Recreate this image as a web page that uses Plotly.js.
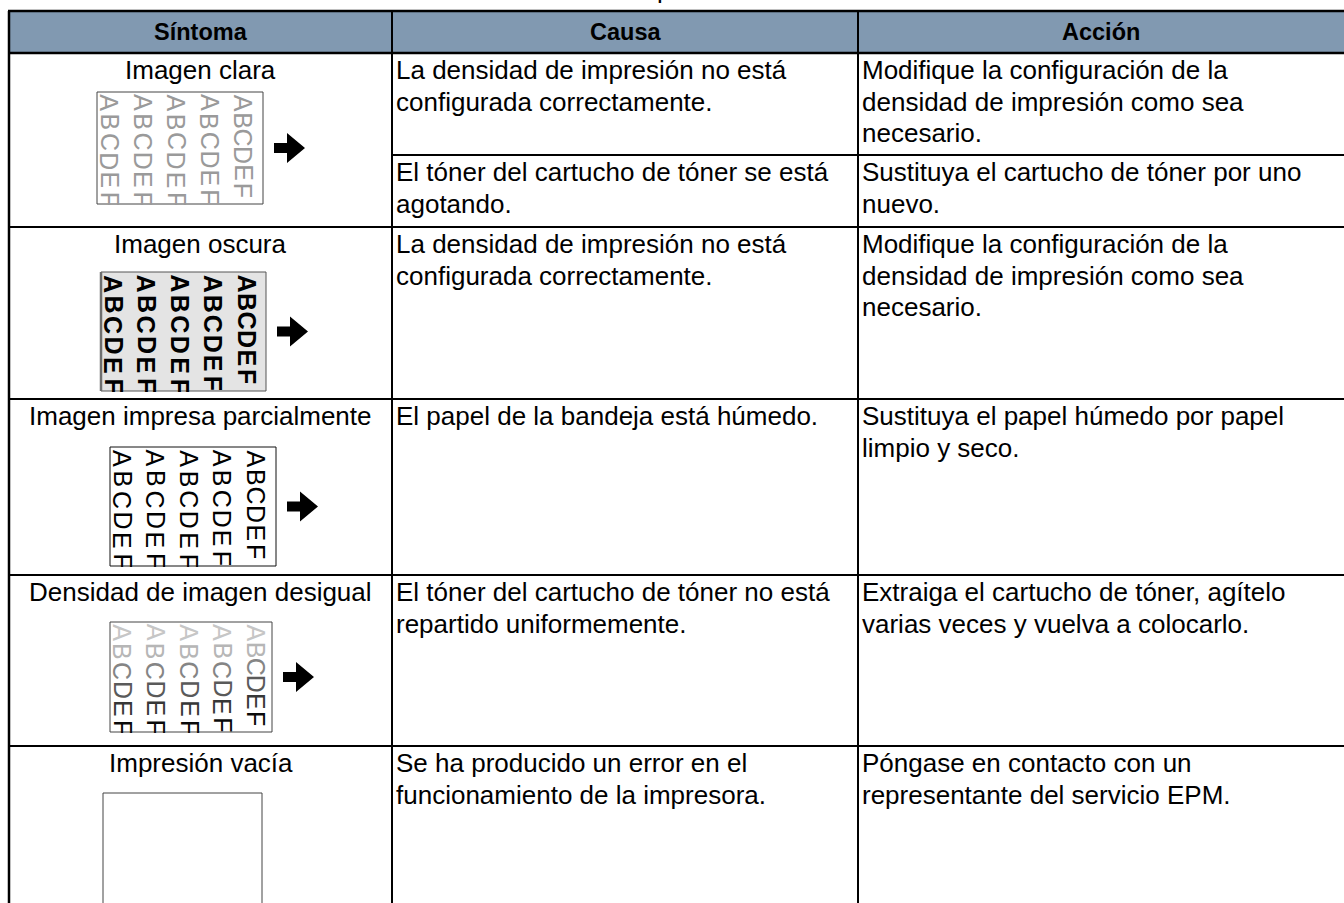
<!DOCTYPE html>
<html><head><meta charset="utf-8">
<script src="https://cdn.plot.ly/plotly-3.0.1.min.js"></script>
<style>html,body{margin:0;padding:0;background:#fff;overflow:hidden}#chart{width:1344px;height:903px}</style>
</head><body><div id="chart"></div>
<script>
// ---------- DATA ----------
const headers = ["Síntoma", "Causa", "Acción"];
const symptoms = ["Imagen clara", "Imagen oscura", "Imagen impresa parcialmente", "Densidad de imagen desigual", "Impresión vacía"];
const causeRow = [0, 0, 1, 2, 3, 4];
const causes = [
  "La densidad de impresión no está\nconfigurada correctamente.",
  "El tóner del cartucho de tóner se está\nagotando.",
  "La densidad de impresión no está\nconfigurada correctamente.",
  "El papel de la bandeja está húmedo.",
  "El tóner del cartucho de tóner no está\nrepartido uniformemente.",
  "Se ha producido un error en el\nfuncionamiento de la impresora."
];
const actions = [
  "Modifique la configuración de la\ndensidad de impresión como sea\nnecesario.",
  "Sustituya el cartucho de tóner por uno\nnuevo.",
  "Modifique la configuración de la\ndensidad de impresión como sea\nnecesario.",
  "Sustituya el papel húmedo por papel\nlimpio y seco.",
  "Extraiga el cartucho de tóner, agítelo\nvarias veces y vuelva a colocarlo.",
  "Póngase en contacto con un\nrepresentante del servicio EPM."
];
const sampleLetters = ["A", "B", "C", "D", "E", "F"];
const sampleKind = ["claro", "oscuro", "normal", "desigual", "vacio"];
const topFragment = "p";

// ---------- LAYOUT CONSTANTS ----------
const FONT = "Liberation Sans, Arial, sans-serif";
const colX = [9, 392, 858, 1350];
const headerTop = 11, headerBottom = 53;
const rowTops = [53, 227, 399, 575, 746];
const rowEnd = 915;
const causeTops = [53, 155, 227, 399, 575, 746];
const thumbs = [
  {x0: 97, x1: 263, y0: 92, y1: 204},
  {x0: 101, x1: 266, y0: 272, y1: 391},
  {x0: 110, x1: 276, y0: 447, y1: 566},
  {x0: 110, x1: 272, y0: 622, y1: 732},
  {x0: 103, x1: 262, y0: 793, y1: 920}
];
const colPitch = [20.5, 20.5, 20.5, 20, 18.5];
const lineGap = 31.5, firstLine = 17, bodySize = 26;

const shapes = [];
const ann = [];

// header band
shapes.push({type: 'rect', xref: 'x', yref: 'y', x0: colX[0], x1: colX[3], y0: headerTop, y1: headerBottom,
  fillcolor: '#8199b1', line: {width: 0}, layer: 'below'});

function hline(y, xa, xb, w) {
  shapes.push({type: 'line', xref: 'x', yref: 'y', x0: xa, x1: xb, y0: y, y1: y, line: {color: '#000', width: w}});
}
function vline(x, ya, yb, w) {
  shapes.push({type: 'line', xref: 'x', yref: 'y', x0: x, x1: x, y0: ya, y1: yb, line: {color: '#000', width: w}});
}
hline(headerTop, colX[0] - 1, colX[3], 2.5);
hline(headerBottom, colX[0], colX[3], 2.5);
rowTops.slice(1).forEach(y => hline(y, colX[0], colX[3], 2));
hline(causeTops[1], colX[1], colX[3], 2);
vline(colX[0], headerTop, rowEnd, 2.5);
vline(colX[1], headerTop, rowEnd, 2);
vline(colX[2], headerTop, rowEnd, 2);

// header text
headers.forEach((h, i) => {
  ann.push({xref: 'x', yref: 'y', x: (colX[i] + Math.min(colX[i + 1], 1344)) / 2, y: (headerTop + headerBottom) / 2,
    text: h, showarrow: false, xanchor: 'center', yanchor: 'middle',
    font: {family: FONT, size: 23.5, color: '#000', weight: 'bold'}});
});

// symptom names
symptoms.forEach((s, r) => {
  ann.push({xref: 'x', yref: 'y', x: (colX[0] + colX[1]) / 2, y: rowTops[r] + firstLine, text: s, showarrow: false,
    xanchor: 'center', yanchor: 'middle', font: {family: FONT, size: bodySize, color: '#000'}});
});

function addLines(txt, x, top) {
  txt.split("\n").forEach((line, li) => {
    ann.push({xref: 'x', yref: 'y', x: x, y: top + firstLine + lineGap * li, text: line, showarrow: false,
      xanchor: 'left', yanchor: 'middle', font: {family: FONT, size: bodySize, color: '#000'}});
  });
}
causes.forEach((c, k) => addLines(c, colX[1] + 2, causeTops[k]));
actions.forEach((a, k) => addLines(a, colX[2] + 2, causeTops[k]));

// sample thumbnails
const unevenColors = ["#c6c6c6", "#b6b6b6", "#858585", "#5a5a5a", "#373737", "#0a0a0a"];
const covers = [];
thumbs.forEach((t, r) => {
  const kind = sampleKind[r];
  const h = t.y1 - t.y0;
  if (kind === 'oscuro') {
    shapes.push({type: 'rect', xref: 'x', yref: 'y', x0: t.x0, x1: t.x1, y0: t.y0, y1: t.y1,
      fillcolor: '#e4e4e4', line: {color: '#555', width: 1}});
    shapes.push({type: 'line', xref: 'x', yref: 'y', x0: t.x0, x1: t.x0, y0: t.y0, y1: t.y1, line: {color: '#6e6e6e', width: 2.5}});
  } else {
    shapes.push({type: 'rect', xref: 'x', yref: 'y', x0: t.x0, x1: t.x1, y0: t.y0, y1: t.y1,
      fillcolor: 'rgba(0,0,0,0)', line: {color: kind === 'normal' ? '#111' : '#444', width: 1}});
  }
  if (kind === 'vacio') return;
  const s = h / 119;
  for (let j = 0; j < 5; j++) {
    const cx = t.x0 + 12.5 + 33.4 * j;
    sampleLetters.forEach((L, i) => {
      let color = '#000', weight = 'normal';
      if (kind === 'claro') color = '#9a9a9a';
      if (kind === 'oscuro') weight = 'bold';
      if (kind === 'desigual') color = unevenColors[i];
      ann.push({xref: 'x', yref: 'y', x: cx, y: t.y0 + 11.5 * s + colPitch[j] * s * i, text: L, textangle: 90,
        showarrow: false, xanchor: 'center', yanchor: 'middle', borderpad: 0,
        font: {family: FONT, size: 25, color: color, weight: weight}});
    });
  }
  // white cover to clip the letters at the thumbnail's lower edge
  const nextLine = rowTops[r + 1] !== undefined ? rowTops[r + 1] : rowEnd;
  const ch = Math.max(2, Math.min(9, nextLine - t.y1 - 3));
  covers.push({xref: 'x', yref: 'y', x: (t.x0 + t.x1) / 2, y: t.y1 + 0.6, text: ' ', showarrow: false,
    xanchor: 'center', yanchor: 'top', width: t.x1 - t.x0 + 6, height: ch, borderpad: 0, borderwidth: 0,
    bgcolor: '#ffffff', font: {size: 4}});
  // arrow
  const ax = t.x1 + 11, cy = (t.y0 + t.y1) / 2;
  shapes.push({type: 'path', xref: 'x', yref: 'y',
    path: `M ${ax},${cy - 5} L ${ax + 13},${cy - 5} L ${ax + 13},${cy - 15} L ${ax + 31},${cy} L ${ax + 13},${cy + 15} L ${ax + 13},${cy + 5} L ${ax},${cy + 5} Z`,
    fillcolor: '#000', line: {width: 0}});
});
covers.forEach(c => ann.push(c));

// cut-off fragment of the page title at the very top
ann.push({xref: 'x', yref: 'y', x: 664, y: 5.5, text: topFragment, showarrow: false, xanchor: 'center', yanchor: 'bottom',
  font: {family: FONT, size: 26, color: '#000'}});

const data = [{type: 'scatter', x: [0], y: [0], mode: 'markers', marker: {opacity: 0}, hoverinfo: 'skip', showlegend: false}];
const layout = {
  width: 1344, height: 903, margin: {l: 0, r: 0, t: 0, b: 0},
  paper_bgcolor: '#fff', plot_bgcolor: '#fff', showlegend: false,
  xaxis: {range: [0, 1344], visible: false, fixedrange: true},
  yaxis: {range: [903, 0], visible: false, fixedrange: true},
  shapes: shapes, annotations: ann
};
Plotly.newPlot('chart', data, layout, {staticPlot: true, displayModeBar: false});
</script></body></html>
